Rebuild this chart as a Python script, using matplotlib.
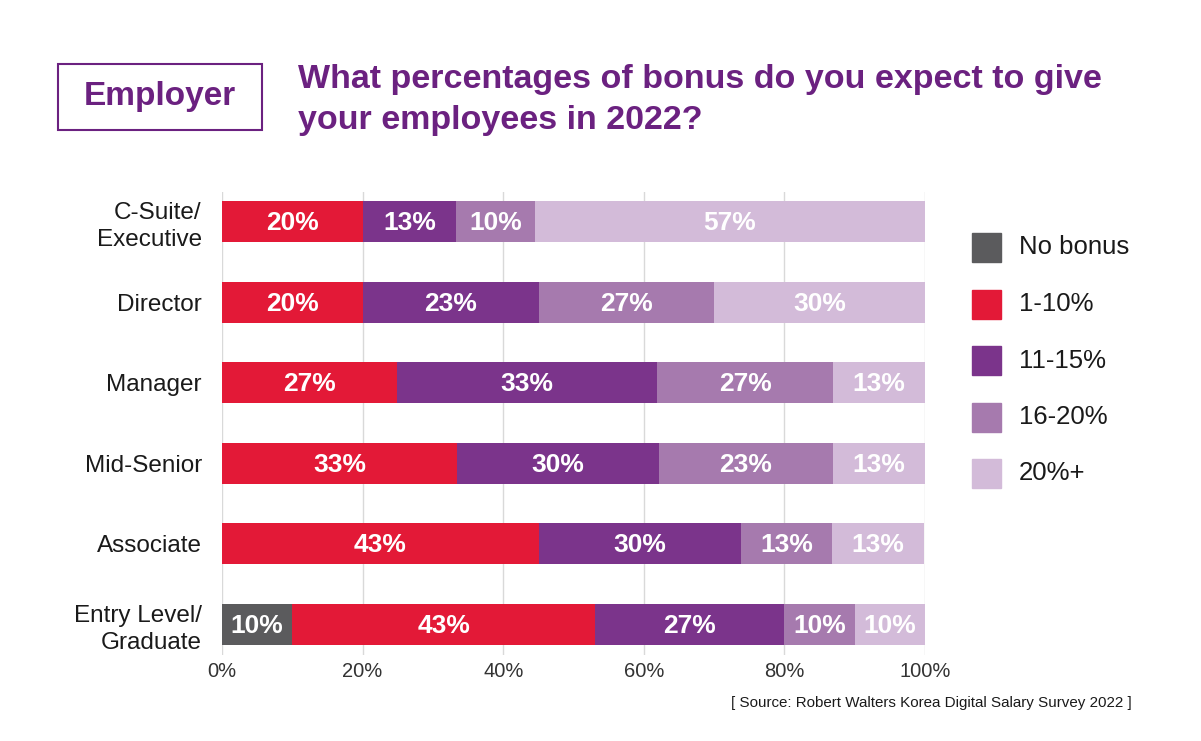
import matplotlib
matplotlib.use("Agg")
import matplotlib.pyplot as plt
from matplotlib.patches import Rectangle

plt.rcParams["font.family"] = ["Liberation Sans", "DejaVu Sans"]

# data
categories = ["C-Suite/\nExecutive", "Director", "Manager", "Mid-Senior",
              "Associate", "Entry Level/\nGraduate"]
series_names = ["No bonus", "1-10%", "11-15%", "16-20%", "20%+"]
colors = ["#5b5b5d", "#e31937", "#7b348b", "#a67aae", "#d3bbd9"]

# segment widths as drawn (percent of bar)
no_bonus = [0, 0, 0, 0, 0, 10.0]
b1_10 = [20.0, 20.0, 24.9, 33.4, 45.1, 43.1]
b11_15 = [13.3, 25.1, 37.0, 28.7, 28.7, 26.9]
b16_20 = [11.2, 24.9, 25.0, 24.8, 13.0, 10.0]
b20_plus = [55.5, 30.0, 13.1, 13.1, 13.1, 10.0]

# printed labels on the segments
lab_no_bonus = ["", "", "", "", "", "10%"]
lab_1_10 = ["20%", "20%", "27%", "33%", "43%", "43%"]
lab_11_15 = ["13%", "23%", "33%", "30%", "30%", "27%"]
lab_16_20 = ["10%", "27%", "27%", "23%", "13%", "10%"]
lab_20_plus = ["57%", "30%", "13%", "13%", "13%", "10%"]

series = [no_bonus, b1_10, b11_15, b16_20, b20_plus]
labels = [lab_no_bonus, lab_1_10, lab_11_15, lab_16_20, lab_20_plus]

fig = plt.figure(figsize=(12.01, 7.41), dpi=100)
ax = fig.add_axes([222 / 1201, 1 - 655 / 741, 703 / 1201, 463 / 741])

y = list(range(len(categories)))
left = [0] * len(categories)
for vals, labs, col in zip(series, labels, colors):
    ax.barh(y, vals, left=left, height=0.51, color=col, zorder=2)
    for i, (v, t) in enumerate(zip(vals, labs)):
        if v > 0 and t:
            ax.text(left[i] + v / 2, y[i] + 0.02, t, ha="center", va="center",
                    color="white", fontsize=19, fontweight="bold", zorder=3)
    left = [a + b for a, b in zip(left, vals)]

ax.set_xlim(0, 100)
ax.set_ylim(5.38, -0.37)
ax.set_xticks([0, 20, 40, 60, 80, 100])
ax.set_xticklabels(["0%", "20%", "40%", "60%", "80%", "100%"],
                   fontsize=14.5, color="#333333")
ax.set_yticks(y)
ax.set_yticklabels(categories, fontsize=17.5, color="#1a1a1a", linespacing=1.3)
ax.tick_params(axis="both", length=0)
ax.tick_params(axis="y", pad=14.5)
ax.tick_params(axis="x", pad=5)
ax.grid(axis="x", color="#d9d9d9", linewidth=1, zorder=0)
for s in ax.spines.values():
    s.set_visible(False)

# legend drawn by hand as squares and text
leg_y = [247, 304, 360.5, 417, 473.5]
for name, col, yy in zip(series_names, colors, leg_y):
    fig.patches.append(Rectangle((972 / 1201, 1 - (yy + 14.5) / 741), 29 / 1201, 29 / 741,
                                 transform=fig.transFigure, color=col))
    fig.text(1019 / 1201, 1 - yy / 741, name, fontsize=18.5, color="#1a1a1a",
             va="center", ha="left")

# header
purple = "#6b2180"
fig.patches.append(Rectangle((58 / 1201, 1 - 130 / 741), 204 / 1201, 66 / 741,
                             transform=fig.transFigure, fill=False,
                             edgecolor=purple, linewidth=1.5))
fig.text(160 / 1201, 1 - 97 / 741, "Employer", fontsize=24, fontweight="bold",
         color=purple, ha="center", va="center")
fig.text(298 / 1201, 1 - 100 / 741,
         "What percentages of bonus do you expect to give\nyour employees in 2022?",
         fontsize=24.5, fontweight="bold", color=purple, ha="left", va="center",
         linespacing=1.45)

fig.text(1132 / 1201, 1 - 703 / 741,
         "[ Source: Robert Walters Korea Digital Salary Survey 2022 ]",
         fontsize=10.9, color="#1a1a1a", ha="right", va="center")

fig.savefig("out.png", dpi=100)
